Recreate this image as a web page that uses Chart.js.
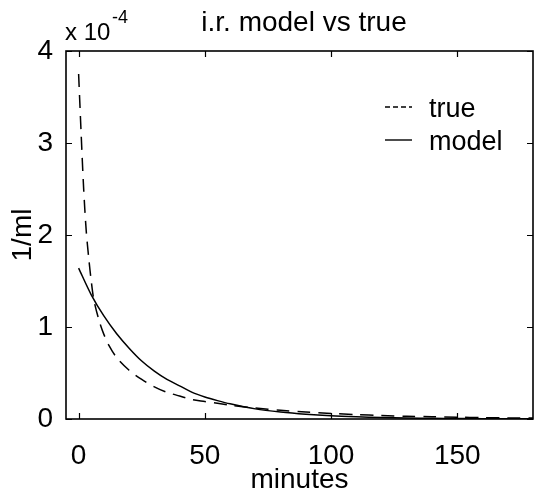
<!DOCTYPE html>
<html>
<head>
<meta charset="utf-8">
<script src="https://cdn.jsdelivr.net/npm/chart.js@4.4.0/dist/chart.umd.min.js"></script>
<style>
  html, body { margin: 0; padding: 0; background: #fff; }
  #wrap { width: 535px; height: 495px; }
</style>
</head>
<body>
<div id="wrap"><canvas id="canvas" width="535" height="495"></canvas></div>
<script>
// values, y in units of 1e-4 1/ml
var trueMinutes = [0, 1, 2, 3, 4, 5, 6, 8, 10, 12, 15, 20, 25, 30, 35, 40, 45, 50, 55, 60, 70, 80, 90, 100, 110, 120, 130, 140, 150, 160, 170, 180];
var trueValues  = [3.75, 3.1, 2.5, 2.05, 1.75, 1.5, 1.3, 1.08, 0.92, 0.8, 0.67, 0.53, 0.43, 0.35, 0.29, 0.25, 0.21, 0.19, 0.17, 0.15, 0.12, 0.095, 0.075, 0.06, 0.048, 0.038, 0.03, 0.024, 0.019, 0.015, 0.012, 0.01];
var modelMinutes = [0, 5, 10, 15, 20, 25, 30, 35, 40, 45, 50, 55, 60, 70, 80, 90, 100, 110, 120, 130, 140, 150, 160, 170, 180];
var modelValues  = [1.64, 1.35, 1.12, 0.93, 0.77, 0.63, 0.52, 0.43, 0.36, 0.29, 0.24, 0.2, 0.165, 0.11, 0.076, 0.052, 0.035, 0.024, 0.016, 0.011, 0.008, 0.005, 0.004, 0.003, 0.002];
var xTicks = [0, 50, 100, 150];
var yTicks = [0, 1, 2, 3, 4];
var seriesNames = ['true', 'model'];

var FONT = '"Liberation Sans", Arial, Helvetica, sans-serif';

function toPoints(xs, ys) {
    return xs.map(function(x, i) { return {x: x, y: ys[i]}; });
}

// MATLAB style box with inward ticks, titles and legend
var matlabBits = {
    id: 'matlabBits',
    afterDraw: function(chart) {
        var ctx = chart.ctx;
        var a = chart.chartArea;
        var xs = chart.scales.x, ys = chart.scales.y;
        ctx.save();
        ctx.strokeStyle = '#000';
        ctx.lineWidth = 1.6;
        ctx.setLineDash([]);
        ctx.strokeRect(a.left, a.top, a.right - a.left, a.bottom - a.top);
        ctx.lineWidth = 1.2;
        ctx.beginPath();
        xTicks.forEach(function(v) {
            var px = Math.round(xs.getPixelForValue(v)) + 0.5;
            ctx.moveTo(px, a.bottom); ctx.lineTo(px, a.bottom - 6);
            ctx.moveTo(px, a.top); ctx.lineTo(px, a.top + 6);
        });
        yTicks.forEach(function(v) {
            var py = Math.round(ys.getPixelForValue(v)) + 0.5;
            ctx.moveTo(a.left, py); ctx.lineTo(a.left + 6, py);
            ctx.moveTo(a.right, py); ctx.lineTo(a.right - 6, py);
        });
        ctx.stroke();

        ctx.fillStyle = '#000';
        ctx.textBaseline = 'alphabetic';
        // title
        ctx.font = '28px ' + FONT;
        ctx.textAlign = 'center';
        ctx.fillText('i.r. model vs true', 304, 31);
        // exponent
        ctx.textAlign = 'left';
        ctx.font = '24px ' + FONT;
        ctx.fillText('x 10', 65, 40);
        ctx.font = '18px ' + FONT;
        ctx.fillText('-4', 112, 23);
        // axis titles
        ctx.font = '28px ' + FONT;
        ctx.textAlign = 'center';
        ctx.fillText('minutes', (a.left + a.right) / 2, 488);
        ctx.save();
        ctx.translate(31, (a.top + a.bottom) / 2);
        ctx.rotate(-Math.PI / 2);
        ctx.fillText('1/ml', 0, 0);
        ctx.restore();

        // legend
        var ds = chart.data.datasets;
        var rows = [107, 140];
        ds.forEach(function(d, i) {
            ctx.beginPath();
            ctx.lineWidth = 1.4;
            ctx.setLineDash(i === 0 ? [5, 3] : []);
            ctx.moveTo(385, rows[i]);
            ctx.lineTo(412, rows[i]);
            ctx.stroke();
            ctx.setLineDash([]);
            ctx.textAlign = 'left';
            ctx.font = '27px ' + FONT;
            ctx.fillText(d.label, 429, rows[i] + 10);
        });
        ctx.restore();
    }
};

var ctx = document.getElementById('canvas').getContext('2d');
var myChart = new Chart(ctx, {
    type: 'line',
    data: {
        datasets: [{
            label: seriesNames[0],
            data: toPoints(trueMinutes, trueValues),
            borderColor: '#000',
            borderWidth: 1.5,
            borderDash: [13, 8],
            pointRadius: 0,
            tension: 0.3,
            fill: false
        },
        {
            label: seriesNames[1],
            data: toPoints(modelMinutes, modelValues),
            borderColor: '#000',
            borderWidth: 1.5,
            pointRadius: 0,
            tension: 0.3,
            fill: false
        }]
    },
    options: {
        responsive: false,
        animation: false,
        layout: { padding: { top: 51, right: 2, left: 0, bottom: 0 } },
        plugins: { legend: { display: false }, tooltip: { enabled: false } },
        scales: {
            x: {
                type: 'linear',
                min: -5,
                max: 180,
                afterBuildTicks: function(s) { s.ticks = xTicks.map(function(v) { return {value: v}; }); },
                afterFit: function(s) { s.height = 495 - 419; },
                grid: { display: false },
                border: { display: false },
                ticks: { color: '#000', font: { size: 28, family: FONT }, padding: 12, maxRotation: 0 }
            },
            y: {
                min: 0,
                max: 4,
                afterBuildTicks: function(s) { s.ticks = yTicks.map(function(v) { return {value: v}; }); },
                afterFit: function(s) { s.width = 66; },
                grid: { display: false },
                border: { display: false },
                ticks: { color: '#000', font: { size: 28, family: FONT }, padding: 5 }
            }
        }
    },
    plugins: [matlabBits]
});
</script>
</body>
</html>
